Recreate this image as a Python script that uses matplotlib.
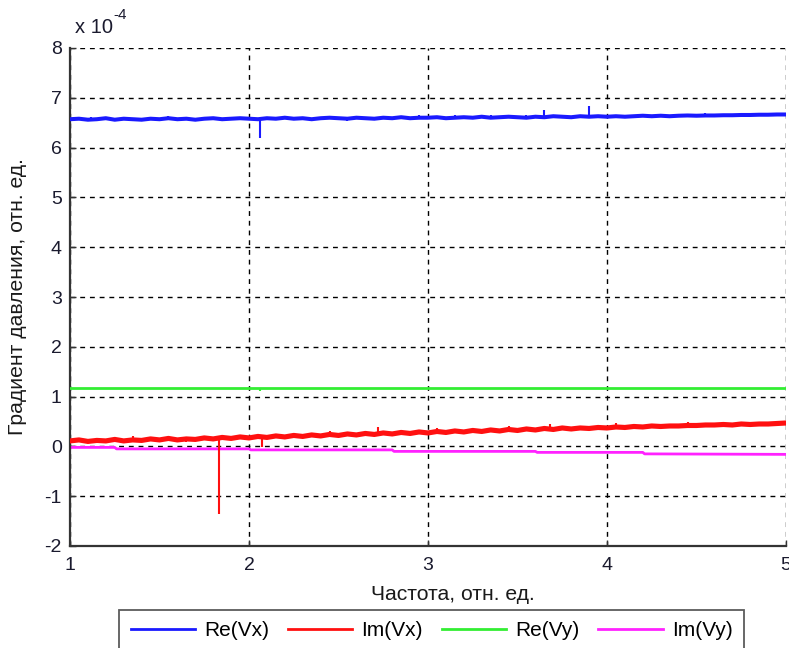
import numpy as np
import matplotlib
matplotlib.use("Agg")
import matplotlib.pyplot as plt
from matplotlib.ticker import FuncFormatter
from matplotlib.lines import Line2D

plt.rcParams['font.family'] = ['Liberation Sans', 'DejaVu Sans']

SCALE = 1e-4

# frequency grid (step 0.05 from 1 to 5)
freq = np.round(np.arange(1.0, 5.0001, 0.05), 2)

re_vx = [6.57, 6.58, 6.56, 6.57, 6.59, 6.56, 6.58, 6.57, 6.56, 6.58,
         6.57, 6.59, 6.57, 6.58, 6.56, 6.58, 6.59, 6.57, 6.58, 6.59,
         6.58, 6.57, 6.59, 6.58, 6.60, 6.58, 6.59, 6.57, 6.59, 6.60,
         6.59, 6.58, 6.60, 6.59, 6.58, 6.60, 6.59, 6.61, 6.59, 6.60,
         6.60, 6.61, 6.59, 6.60, 6.61, 6.60, 6.62, 6.60, 6.61, 6.62,
         6.61, 6.60, 6.62, 6.61, 6.63, 6.62, 6.61, 6.63, 6.62, 6.63,
         6.62, 6.63, 6.62, 6.63, 6.64, 6.63, 6.64, 6.63, 6.64, 6.645,
         6.64, 6.645, 6.645, 6.65, 6.65, 6.655, 6.655, 6.66, 6.66, 6.665,
         6.665]

im_vx = [0.11, 0.13, 0.10, 0.12, 0.11, 0.14, 0.11, 0.13, 0.12, 0.15,
         0.13, 0.16, 0.13, 0.15, 0.14, 0.17, 0.15, 0.18, 0.16, 0.19,
         0.17, 0.20, 0.18, 0.21, 0.19, 0.22, 0.20, 0.23, 0.21, 0.24,
         0.22, 0.25, 0.23, 0.26, 0.24, 0.27, 0.25, 0.28, 0.26, 0.29,
         0.27, 0.30, 0.28, 0.31, 0.29, 0.32, 0.30, 0.33, 0.31, 0.34,
         0.32, 0.35, 0.33, 0.36, 0.34, 0.37, 0.35, 0.37, 0.36, 0.38,
         0.37, 0.39, 0.38, 0.40, 0.39, 0.41, 0.40, 0.41, 0.41, 0.42,
         0.42, 0.43, 0.43, 0.44, 0.43, 0.45, 0.44, 0.45, 0.45, 0.46,
         0.47]

re_vy_freq = [1.0, 2.0, 3.0, 4.0, 5.0]
re_vy = [1.17, 1.17, 1.17, 1.17, 1.17]

im_vy_freq = [1.0, 1.25, 1.26, 2.0, 2.01, 2.8, 2.81, 3.6, 3.61, 4.2, 4.21, 5.0]
im_vy = [-0.02, -0.02, -0.05, -0.05, -0.07, -0.07, -0.10, -0.10, -0.12, -0.12, -0.15, -0.16]

# spikes: (freq, base, tip)
spikes_re_vx = [(2.06, 6.58, 6.20), (3.65, 6.62, 6.76), (3.90, 6.63, 6.84),
                (1.55, 6.57, 6.63), (2.95, 6.60, 6.66), (3.35, 6.61, 6.66),
                (1.12, 6.57, 6.62), (1.85, 6.58, 6.53), (2.55, 6.59, 6.54),
                (3.15, 6.60, 6.65), (3.55, 6.61, 6.66), (4.55, 6.65, 6.69)]
spikes_im_vx = [(1.83, 0.17, -1.35), (2.07, 0.21, -0.01), (2.72, 0.26, 0.38),
                (2.45, 0.22, 0.30), (3.68, 0.36, 0.44), (3.05, 0.30, 0.36),
                (1.35, 0.14, 0.20), (1.65, 0.16, 0.09), (2.25, 0.20, 0.27),
                (3.45, 0.33, 0.40), (4.05, 0.40, 0.46), (4.45, 0.43, 0.48)]
spikes_re_vy = [(2.06, 1.17, 1.12)]

series_labels = ['Re(Vx)', 'Im(Vx)', 'Re(Vy)', 'Im(Vy)']
colors = ['#1a1aff', '#ff1010', '#33ee33', '#ff22ff']

x_ticks = [1, 2, 3, 4, 5]
y_ticks = [-2, -1, 0, 1, 2, 3, 4, 5, 6, 7, 8]

fig = plt.figure(figsize=(7.89, 6.48), dpi=100)
ax = fig.add_axes([70 / 789, 1 - 546 / 648, 716 / 789, 498 / 648])

ax.plot(freq, np.array(re_vx) * SCALE, color=colors[0], lw=2.9, zorder=4)
ax.plot(freq, np.array(im_vx) * SCALE, color=colors[1], lw=3.7, zorder=3)
ax.plot(re_vy_freq, np.array(re_vy) * SCALE, color=colors[2], lw=2.0, zorder=3)
ax.plot(im_vy_freq, np.array(im_vy) * SCALE, color=colors[3], lw=2.0, zorder=2)

for spikes, c in [(spikes_re_vx, colors[0]), (spikes_im_vx, colors[1]), (spikes_re_vy, colors[2])]:
    for f, b, t in spikes:
        ax.vlines(f, b * SCALE, t * SCALE, color=c, lw=1.5, zorder=4)

ax.set_xlim(1, 5)
ax.set_ylim(-2 * SCALE, 8 * SCALE)
ax.set_xticks(x_ticks)
ax.set_yticks([v * SCALE for v in y_ticks])
ax.yaxis.set_major_formatter(FuncFormatter(lambda v, p: f'{v / SCALE:g}'))

ax.grid(True, color='black', linestyle=(0, (3.5, 3.5)), lw=1.0)
for s in ['top', 'right']:
    ax.spines[s].set_visible(False)
for s in ['left', 'bottom']:
    ax.spines[s].set_color('#333333')
    ax.spines[s].set_linewidth(1.6)
ax.tick_params(direction='in', length=4, width=1, labelsize=14, colors='#333333',
               labelcolor='#1a1a2e')
ax.tick_params(axis='x', pad=8)
ax.tick_params(axis='y', pad=6)

ax.set_xlabel('Частота, отн. ед.', fontsize=15.2, color='#1a1a1a')
ax.xaxis.set_label_coords((453 - 70) / 716, -0.078)
ax.set_ylabel('Градиент давления, отн. ед.', fontsize=15.2, color='#1a1a1a')
ax.yaxis.set_label_coords(-0.060, 0.5)

fig.text(75 / 789, 1 - 33 / 648, 'x 10', fontsize=14.5, color='#1a1a2e', va='baseline')
fig.text(113 / 789, 1 - 19 / 648, '-4', fontsize=11, color='#1a1a2e', va='baseline')

handles = [Line2D([], [], color=c, lw=2.0) for c in colors]
leg = fig.legend(handles, series_labels, loc='upper center',
                 bbox_to_anchor=(431.5 / 789, 1 - 610 / 648),
                 ncol=4, fontsize=15, frameon=True, fancybox=False,
                 edgecolor='#333333', handlelength=3.1, columnspacing=0.9,
                 handletextpad=0.43, borderpad=0.55, borderaxespad=0)
leg.get_frame().set_linewidth(1.3)

fig.savefig('out.png', dpi=100)
